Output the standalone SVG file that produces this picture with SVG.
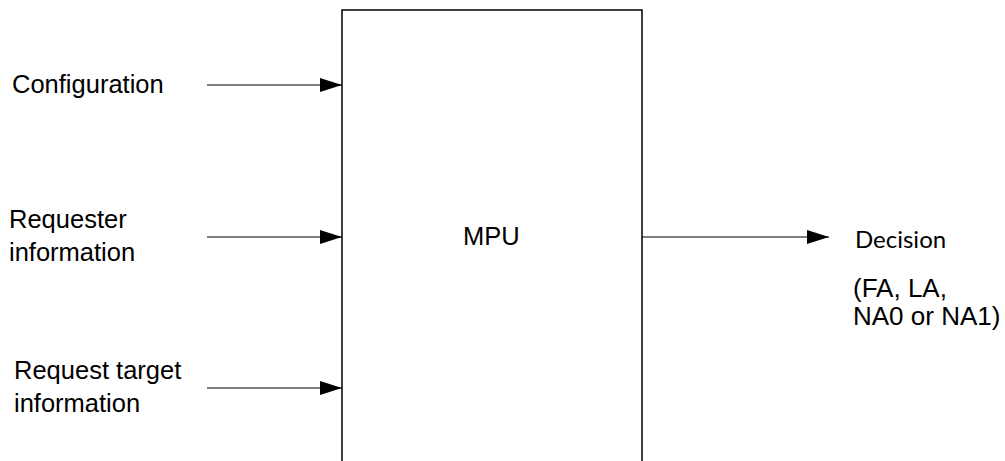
<svg xmlns="http://www.w3.org/2000/svg" width="1005" height="461" viewBox="0 0 1005 461">
<defs>
<style>
.lbl{font-family:"Liberation Sans",Arial,sans-serif;font-size:25.5px;fill:#000}
.rt{font-family:"Liberation Sans",Arial,sans-serif;font-size:26px;fill:#000}
.cal{font-family:Lato,"Open Sans",sans-serif;font-size:24px;fill:#000}
.ln{stroke:#000;stroke-width:1.2;fill:none}
</style>
<marker id="ah" markerWidth="22" markerHeight="14" refX="22" refY="7" orient="auto" markerUnits="userSpaceOnUse">
<polygon points="0,0 22,7 0,14" fill="#000"/>
</marker>
</defs>
<rect width="1005" height="461" fill="#fff"/>
<g id="mpu">
<rect x="342" y="10" width="300" height="470" fill="#fff" stroke="#000" stroke-width="1.5"/>
<text class="lbl" x="463" y="245">MPU</text>
</g>
<g id="configuration">
<text class="lbl" x="12" y="93">Configuration</text>
</g>
<g id="requester">
<text class="lbl" x="9" y="228">Requester</text>
<text class="lbl" x="9" y="261">information</text>
</g>
<g id="target">
<text class="lbl" x="14" y="379">Request target</text>
<text class="lbl" x="14" y="412">information</text>
</g>
<g id="decision">
<text class="cal" x="855" y="248">Decision</text>
<text class="rt" x="853" y="297">(FA, LA,</text>
<text class="rt" x="853" y="325">NA0 or NA1)</text>
</g>
<g id="connectors">
<line class="ln" x1="207" y1="85" x2="342" y2="85" marker-end="url(#ah)"/>
<line class="ln" x1="207" y1="237" x2="342" y2="237" marker-end="url(#ah)"/>
<line class="ln" x1="207" y1="388" x2="342" y2="388" marker-end="url(#ah)"/>
<line class="ln" x1="642" y1="237" x2="829" y2="237" marker-end="url(#ah)"/>
</g>
</svg>
